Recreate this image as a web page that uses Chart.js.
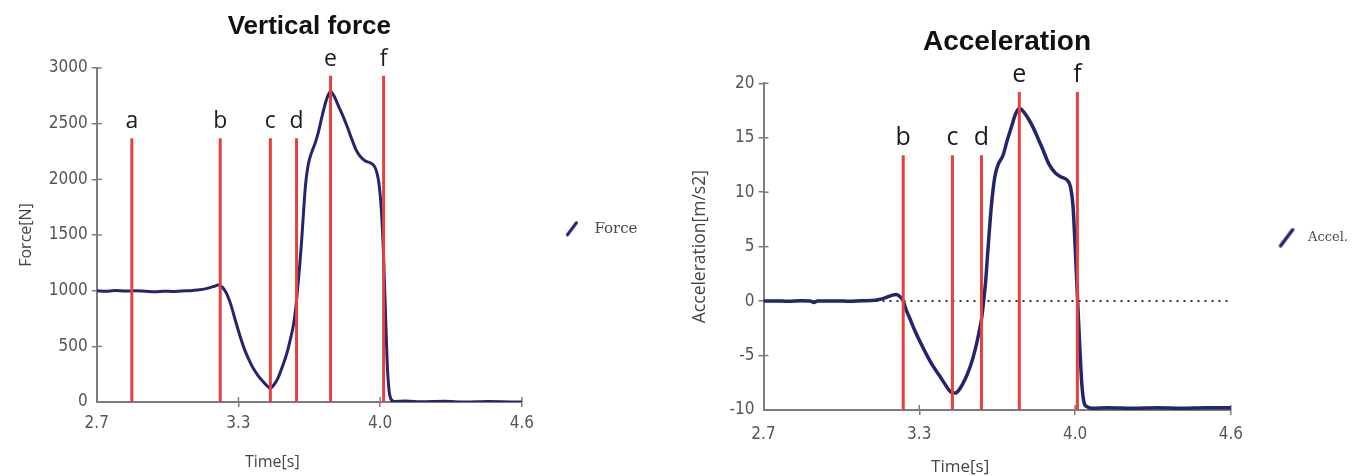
<!DOCTYPE html>
<html><head><meta charset="utf-8">
<script src="https://cdn.jsdelivr.net/npm/chart.js@4.4.1/dist/chart.umd.min.js"></script>
<style>
html,body{margin:0;padding:0;background:#fff;width:1358px;height:476px;overflow:hidden;}
#c1{position:absolute;left:0;top:0;}
#c2{position:absolute;left:656px;top:0;}
</style></head><body>
<canvas id="c1" width="656" height="476"></canvas>
<canvas id="c2" width="702" height="476"></canvas>
<script>
// ---------- data ----------
const xTickValues = [2.7, 3.3333, 3.9667, 4.6];
const xTickLabels = ['2.7', '3.3', '4.0', '4.6'];
const forceTickValues = [0, 500, 1000, 1500, 2000, 2500, 3000];
const accelTickValues = [-10, -5, 0, 5, 10, 15, 20];

const forceTime = [2.70,2.74,2.78,2.83,2.87,2.92,2.96,3.00,3.04,3.08,3.12,3.15,3.19,3.22,3.243,3.262,3.28,3.30,3.32,3.34,3.36,3.38,3.40,3.42,3.44,3.46,3.476,3.49,3.51,3.53,3.55,3.565,3.578,3.588,3.597,3.606,3.615,3.624,3.633,3.645,3.66,3.675,3.69,3.705,3.72,3.735,3.745,3.76,3.78,3.80,3.82,3.84,3.86,3.88,3.90,3.92,3.94,3.952,3.962,3.972,3.981,3.99,3.998,4.006,4.015,4.03,4.08,4.15,4.25,4.35,4.45,4.55,4.60];
const forceValue = [1000,995,1001,996,1000,994,990,995,993,998,1000,1005,1018,1036,1050,1030,975,870,730,595,475,380,300,240,190,148,125,150,215,320,440,560,680,820,1000,1200,1430,1700,1950,2130,2240,2320,2420,2550,2670,2760,2790,2750,2660,2570,2470,2360,2260,2200,2165,2150,2120,2060,1950,1720,1350,820,350,110,25,5,8,2,6,0,4,1,0];

const accelTime = [2.70,2.75,2.80,2.85,2.89,2.905,2.92,2.96,3.00,3.05,3.10,3.14,3.17,3.20,3.225,3.24,3.255,3.268,3.28,3.295,3.315,3.34,3.365,3.39,3.417,3.44,3.455,3.468,3.48,3.495,3.51,3.525,3.545,3.56,3.575,3.586,3.595,3.603,3.612,3.622,3.632,3.642,3.655,3.674,3.69,3.708,3.725,3.74,3.76,3.778,3.795,3.815,3.836,3.86,3.885,3.91,3.935,3.948,3.958,3.967,3.976,3.985,3.994,4.003,4.015,4.04,4.1,4.2,4.3,4.4,4.5,4.6];
const accelValue = [0,0.02,-0.02,0.03,0,-0.12,0,0,0.02,-0.02,0.03,0.05,0.15,0.35,0.55,0.6,0.4,0,-0.8,-1.6,-2.7,-3.9,-5.0,-6.0,-6.9,-7.7,-8.2,-8.45,-8.45,-8.15,-7.6,-6.9,-5.7,-4.5,-3.0,-1.7,0,1.8,4.6,7.6,10.0,11.6,12.6,13.4,14.7,16.0,17.2,17.7,17.3,16.7,16.0,15.0,13.9,12.6,11.8,11.4,11.1,10.5,8.8,5.0,0.5,-3.8,-7.6,-9.3,-9.7,-9.85,-9.8,-9.85,-9.8,-9.85,-9.8,-9.8];

const forceMarkerNames = ['a', 'b', 'c', 'd', 'e', 'f'];
const forceMarkerTimes = [2.857, 3.252, 3.476, 3.593, 3.745, 3.982];
const forceMarkerTops = [2370, 2370, 2370, 2370, 2930, 2930];

const accelMarkerNames = ['b', 'c', 'd', 'e', 'f'];
const accelMarkerTimes = [3.268, 3.468, 3.586, 3.740, 3.976];
const accelMarkerTops = [13.4, 13.4, 13.4, 19.2, 19.2];

const zeroLineTimes = [2.7, 4.6];
const zeroLineValues = [0, 0];

// ---------- styles ----------
const NAVY = '#25256e';
const RED = '#e6403c';
const AXIS = '#7d7d7d';
const TICKTXT = '#555';
const NARROW = "'Liberation Sans Narrow','DejaVu Sans Condensed','Liberation Sans',sans-serif";
const SANS = "'Open Sans','Liberation Sans',sans-serif";
const TITLEF = "'Liberation Sans',Arial,sans-serif";

function makeGlyph(w, h, dx, dy, lw) {
  const c = document.createElement('canvas');
  c.width = w; c.height = h;
  const g = c.getContext('2d');
  g.strokeStyle = NAVY; g.lineWidth = lw; g.lineCap = 'round';
  g.beginPath();
  g.moveTo(w / 2 - dx / 2, h / 2 + dy / 2);
  g.lineTo(w / 2 + dx / 2, h / 2 - dy / 2);
  g.stroke();
  return c;
}

const innerTicks = {
  id: 'innerTicks',
  beforeDatasetsDraw(chart, args, opts) {
    const {ctx, chartArea: a, scales} = chart;
    ctx.save();
    ctx.strokeStyle = opts.color; ctx.lineWidth = opts.width;
    scales.x.ticks.forEach((t, i) => {
      if (i === 0) return;
      const px = scales.x.getPixelForValue(t.value);
      ctx.beginPath(); ctx.moveTo(px, a.bottom); ctx.lineTo(px, a.bottom - opts.length); ctx.stroke();
    });
    scales.y.ticks.forEach((t, i) => {
      if (i === 0) return;
      const py = scales.y.getPixelForValue(t.value);
      ctx.beginPath(); ctx.moveTo(a.left, py); ctx.lineTo(a.left + opts.length, py); ctx.stroke();
    });
    ctx.restore();
  }
};

const markerLabels = {
  id: 'markerLabels',
  afterDatasetsDraw(chart, args, opts) {
    const {ctx, scales} = chart;
    ctx.save();
    ctx.fillStyle = opts.color;
    ctx.font = opts.size + 'px ' + SANS;
    ctx.textAlign = 'center';
    ctx.textBaseline = 'alphabetic';
    opts.names.forEach((n, i) => {
      const x = scales.x.getPixelForValue(opts.times[i]);
      const y = scales.y.getPixelForValue(opts.tops[i]) - opts.gap;
      ctx.fillText(n, x, y);
    });
    ctx.restore();
  }
};

// x-axis title, placed below the axis (offset left of centre like the original)
const xAxisTitle = {
  id: 'xAxisTitle',
  afterDraw(chart, args, opts) {
    const {ctx, chartArea: a} = chart;
    ctx.save();
    ctx.fillStyle = opts.color;
    ctx.font = opts.size + 'px ' + SANS;
    ctx.textAlign = 'center';
    ctx.textBaseline = 'middle';
    ctx.fillText(opts.text, (a.left + a.right) / 2 + opts.dx, a.bottom + opts.dy);
    ctx.restore();
  }
};

function buildChart(canvas, c) {
  const datasets = [];
  datasets.push({
    data: c.time.map((t, i) => ({x: t, y: c.values[i]})),
    borderColor: NAVY, borderWidth: c.curveWidth, pointRadius: 0,
    cubicInterpolationMode: 'monotone', fill: false, order: 2
  });
  c.markerTimes.forEach((t, i) => {
    datasets.push({
      data: [{x: t, y: c.yTicks[0]}, {x: t, y: c.markerTops[i]}],
      borderColor: RED, borderWidth: 3, pointRadius: 0, fill: false, order: 1
    });
  });
  if (c.zero) {
    datasets.push({
      data: zeroLineTimes.map((t, i) => ({x: t, y: zeroLineValues[i]})),
      borderColor: '#333', borderWidth: 2, borderDash: [2, 5], pointRadius: 0, fill: false, order: 3
    });
  }
  return new Chart(canvas, {
    type: 'line',
    data: {datasets},
    plugins: [innerTicks, markerLabels, xAxisTitle],
    options: {
      responsive: false, animation: false, events: [],
      layout: {padding: c.padding},
      scales: {
        x: {
          type: 'linear', min: 2.7, max: 4.6,
          afterBuildTicks: s => { s.ticks = xTickValues.map(v => ({value: v})); },
          afterFit: s => { s.height = c.xHeight; },
          ticks: {callback: (v, i) => xTickLabels[i], font: {family: NARROW, size: 17}, color: TICKTXT, padding: c.xPad, maxRotation: 0, autoSkip: false},
          grid: {drawOnChartArea: false, drawTicks: true, tickLength: 5, lineWidth: 1.5, color: g => g.index === 0 ? 'rgba(0,0,0,0)' : AXIS},
          border: {display: true, color: AXIS, width: 2},
          title: {display: false, text: 'Time[s]'}
        },
        y: {
          type: 'linear', min: c.yTicks[0], max: c.yTicks[c.yTicks.length - 1],
          afterBuildTicks: s => { s.ticks = c.yTicks.map(v => ({value: v})); },
          afterFit: s => { s.width = c.yWidth; },
          ticks: {callback: (v, i) => String(c.yTicks[i]), font: {family: NARROW, size: 17}, color: TICKTXT, padding: 4},
          grid: {drawOnChartArea: false, drawTicks: true, tickLength: 5, lineWidth: 1.5, color: g => g.index === 0 ? 'rgba(0,0,0,0)' : AXIS},
          border: {display: true, color: AXIS, width: 2},
          title: {display: true, text: c.yTitle, font: {family: SANS, size: c.yTitleSize, lineHeight: 1}, color: '#444', padding: {top: c.yTitleTop, bottom: 0}}
        }
      },
      plugins: {
        title: {display: true, text: c.title, fullSize: c.titleFull, font: {family: TITLEF, size: c.titleSize, weight: 'bold', lineHeight: 1}, color: '#111', padding: c.titlePad},
        legend: {
          display: true, position: 'right', align: 'center',
          labels: {
            usePointStyle: true, pointStyleWidth: 30, padding: c.legendPad,
            font: {family: "'DejaVu Serif','Liberation Serif',serif", size: c.legendSize},
            generateLabels: () => [{text: c.legend, fillStyle: NAVY, strokeStyle: NAVY, lineWidth: 0, pointStyle: c.glyph, rotation: 0, hidden: false, datasetIndex: 0, fontColor: '#4a4a4a'}]
          }
        },
        tooltip: {enabled: false},
        innerTicks: {color: AXIS, width: 1.5, length: 5},
        markerLabels: {names: c.markerNames, times: c.markerTimes, tops: c.markerTops, size: c.labelSize, color: '#1c1c1c', gap: 10},
        xAxisTitle: {text: 'Time[s]', size: c.xTitleSize, color: '#444', dx: -37, dy: c.xTitleDy}
      }
    }
  });
}

buildChart(document.getElementById('c1'), {
  time: forceTime, values: forceValue, curveWidth: 3,
  markerNames: forceMarkerNames, markerTimes: forceMarkerTimes, markerTops: forceMarkerTops,
  yTicks: forceTickValues, yTitle: 'Force[N]', yTitleSize: 16, yTitleTop: 0, yWidth: 78.7,
  xHeight: 55.5, xPad: 6, xTitleSize: 16, xTitleDy: 60,
  padding: {left: 18, right: 8.5, top: 0, bottom: 18.5},
  title: 'Vertical force', titleFull: false, titleSize: 26, titlePad: {top: 14, bottom: 28},
  legend: 'Force', legendPad: 35, legendSize: 15, glyph: makeGlyph(30, 16, 9, 12, 3),
  labelSize: 23, zero: false
});

buildChart(document.getElementById('c2'), {
  time: accelTime, values: accelValue, curveWidth: 3.5,
  markerNames: accelMarkerNames, markerTimes: accelMarkerTimes, markerTops: accelMarkerTops,
  yTicks: accelTickValues, yTitle: 'Acceleration[m/s2]', yTitleSize: 17.5, yTitleTop: 35, yWidth: 107.5,
  xHeight: 65.5, xPad: 9, xTitleSize: 17, xTitleDy: 57,
  padding: {left: 0, right: 0, top: 0, bottom: 0.5},
  title: 'Acceleration', titleFull: true, titleSize: 28, titlePad: {top: 28, bottom: 27.3},
  legend: 'Accel.', legendPad: 40.7, legendSize: 13, glyph: makeGlyph(30, 20, 12, 16, 3.5),
  labelSize: 25, zero: true
});
</script>
</body></html>
